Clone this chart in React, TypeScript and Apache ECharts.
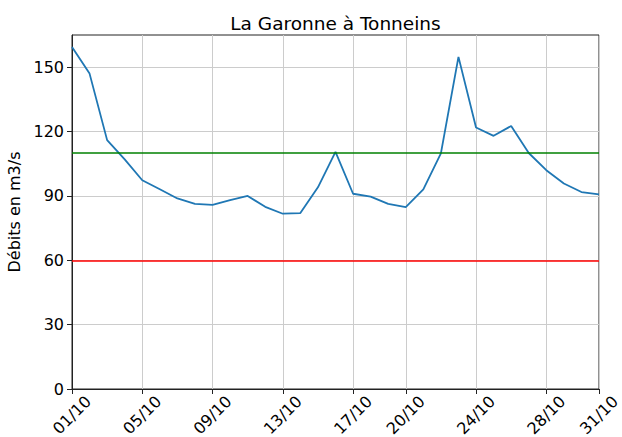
import React, { useEffect, useRef } from "react";
import * as echarts from "echarts";

const TITLE = "La Garonne à Tonneins";
const Y_NAME = "Débits en m3/s";

const dates = [
  "01/10", "02/10", "03/10", "04/10", "05/10", "06/10", "07/10", "08/10",
  "09/10", "10/10", "11/10", "12/10", "13/10", "14/10", "15/10", "16/10",
  "17/10", "18/10", "19/10", "20/10", "21/10", "22/10", "23/10", "24/10",
  "25/10", "26/10", "27/10", "28/10", "29/10", "30/10", "31/10",
];

const debits = [
  159.4, 147.0, 116.0, 107.0, 97.3, 93.1, 88.8, 86.3,
  85.8, 88.0, 90.0, 84.9, 81.7, 82.0, 94.0, 110.5,
  91.0, 89.7, 86.3, 84.8, 93.0, 109.8, 154.8, 121.9,
  118.0, 122.6, 110.0, 102.0, 95.8, 91.8, 90.7,
];

const tickDates = ["01/10", "05/10", "09/10", "13/10", "17/10", "20/10", "24/10", "28/10", "31/10"];
const yTicks = [0, 30, 60, 90, 120, 150];
const Y_MAX = 165;
const seuilHaut = 110;
const seuilBas = 60;

const FONT = "DejaVu Sans";

export default function App() {
  const ref = useRef<HTMLDivElement>(null);
  useEffect(() => {
    if (!ref.current) return;
    const chart = echarts.init(ref.current, null, { renderer: "svg" });
    const showTick = (index: number) => tickDates.includes(dates[index]);
    const gridLeft = 72;
    const gridRight = 23;
    const plotCenter = gridLeft + (622 - gridLeft - gridRight) / 2;
    chart.setOption({
      animation: false,
      backgroundColor: "#ffffff",
      textStyle: { fontFamily: FONT },
      graphic: [
        {
          type: "text",
          x: plotCenter,
          y: 23,
          style: {
            text: TITLE,
            fill: "#000",
            font: `18.5px '${FONT}'`,
            fontSize: 18.5,
            fontFamily: FONT,
            textAlign: "center",
            textVerticalAlign: "middle",
            align: "center",
            verticalAlign: "middle",
          },
        },
      ],
      grid: {
        left: gridLeft,
        right: gridRight,
        top: 35,
        bottom: 48,
        containLabel: false,
        outerBoundsMode: "none",
        show: true,
        borderColor: "#222",
        borderWidth: 1,
        backgroundColor: "transparent",
      },
      xAxis: {
        type: "category",
        data: dates,
        boundaryGap: false,
        axisLine: { show: true, lineStyle: { color: "#222", width: 1 } },
        axisTick: {
          show: true,
          interval: (i: number) => showTick(i),
          length: 5,
          lineStyle: { color: "#222", width: 1 },
        },
        axisLabel: {
          interval: (i: number) => showTick(i),
          rotate: 45,
          align: "center",
          verticalAlign: "middle",
          margin: 26,
          fontSize: 16,
          fontFamily: FONT,
          color: "#000",
          hideOverlap: false,
        },
        splitLine: {
          show: true,
          interval: (i: number) => showTick(i),
          lineStyle: { color: "#cccccc", width: 1 },
        },
      },
      yAxis: {
        type: "value",
        min: 0,
        max: Y_MAX,
        interval: 30,
        name: Y_NAME,
        nameLocation: "middle",
        nameGap: 44,
        nameTextStyle: { fontSize: 16, fontFamily: FONT, color: "#000" },
        axisLine: { show: true, lineStyle: { color: "#222", width: 1 } },
        axisTick: {
          show: true,
          length: 5,
          customValues: yTicks,
          lineStyle: { color: "#222", width: 1 },
        },
        axisLabel: {
          customValues: yTicks,
          margin: 8,
          fontSize: 16,
          fontFamily: FONT,
          color: "#000",
        },
        splitLine: { show: true, lineStyle: { color: "#cccccc", width: 1 } },
      },
      series: [
        {
          type: "line",
          data: debits,
          showSymbol: false,
          symbol: "none",
          lineStyle: { color: "#1f77b4", width: 1.8 },
          itemStyle: { color: "#1f77b4" },
          z: 3,
          markLine: {
            silent: true,
            symbol: ["none", "none"],
            label: { show: false },
            data: [
              { yAxis: seuilHaut, lineStyle: { color: "#008000", width: 1.6, type: "solid" } },
              { yAxis: seuilBas, lineStyle: { color: "#ff0000", width: 1.6, type: "solid" } },
            ],
          },
        },
      ],
    });
    return () => chart.dispose();
  }, []);
  return (
    <div
      ref={ref}
      style={{ position: "fixed", left: 0, top: 0, width: 622, height: 437 }}
    />
  );
}
